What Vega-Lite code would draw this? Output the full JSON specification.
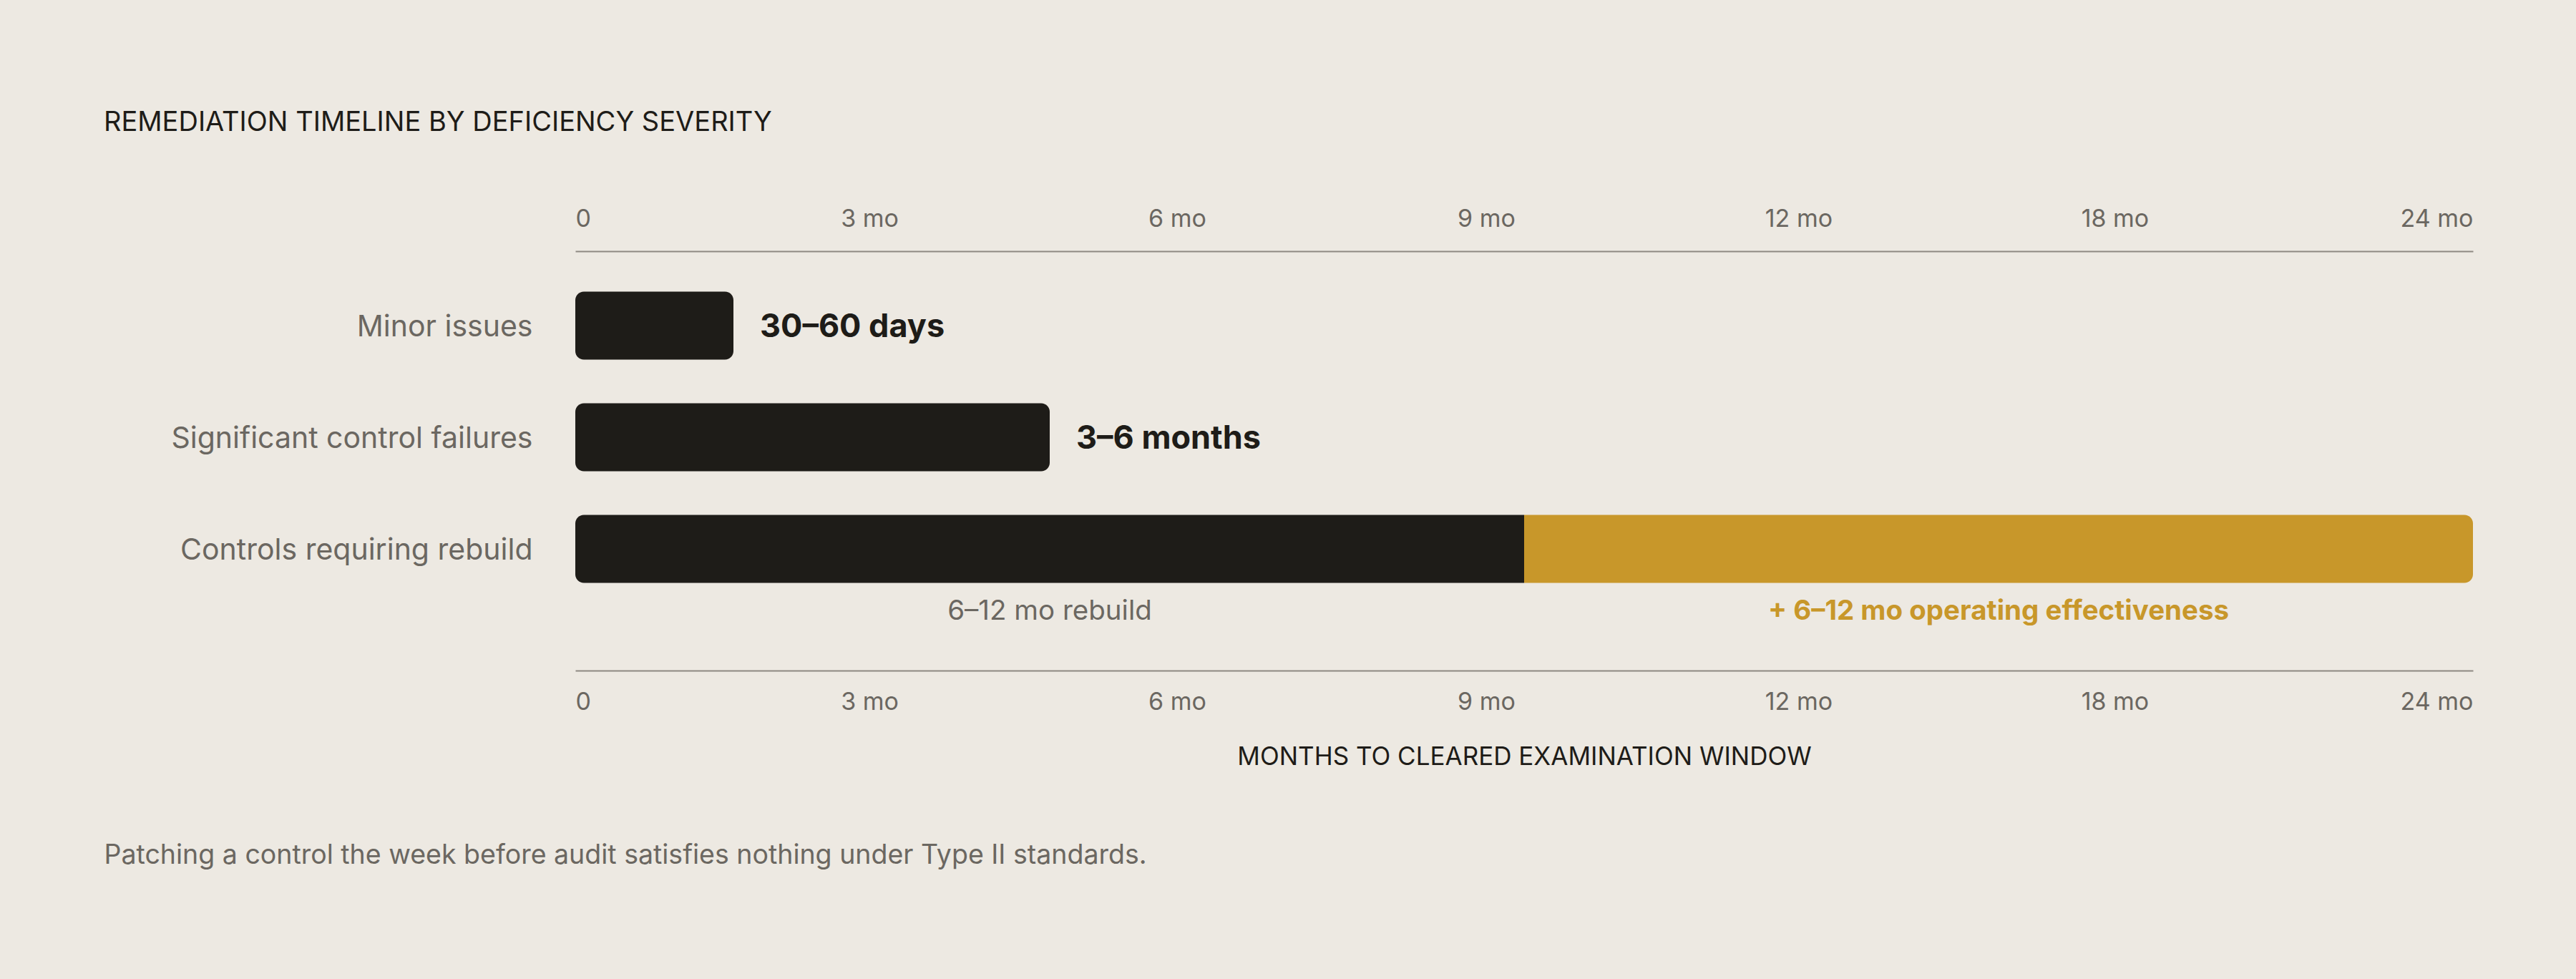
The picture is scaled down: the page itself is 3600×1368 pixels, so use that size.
{
  "$schema": "https://vega.github.io/schema/vega-lite/v6.json",
  "description": "Remediation timeline by deficiency severity, months to a cleared examination window.",
  "autosize": "none",
  "width": 2652,
  "height": 520,
  "padding": {"left": 804, "right": 144, "top": 351, "bottom": 497},
  "background": "#ede9e2",
  "title": {
    "text": "REMEDIATION TIMELINE BY DEFICIENCY SEVERITY",
    "anchor": "start",
    "frame": "group",
    "dx": -659,
    "offset": 98,
    "fontSize": 38,
    "fontWeight": "normal",
    "color": "#1e1c18"
  },
  "config": {
    "font": "Inter",
    "view": {"stroke": null}
  },
  "data": {
    "values": [
      {"category": "Minor issues", "start": 0, "end": 2, "segment": "single", "label": "30–60 days"},
      {"category": "Significant control failures", "start": 0, "end": 6, "segment": "single", "label": "3–6 months"},
      {"category": "Controls requiring rebuild", "start": 0, "end": 12, "segment": "left", "label": "6–12 mo rebuild"},
      {"category": "Controls requiring rebuild", "start": 12, "end": 24, "segment": "right", "label": "+ 6–12 mo operating effectiveness"}
    ]
  },
  "transform": [{"calculate": "(datum.start + datum.end) / 2", "as": "mid"}],
  "encoding": {
    "y": {
      "field": "category",
      "type": "nominal",
      "sort": ["Minor issues", "Significant control failures", "Controls requiring rebuild"],
      "scale": {"paddingInner": 0.391, "paddingOuter": 0.362},
      "axis": {
        "orient": "left",
        "title": "Patching a control the week before audit satisfies nothing under Type II standards.",
        "titleAngle": 0,
        "titleX": -659,
        "titleY": 844,
        "titleAlign": "left",
        "titleBaseline": "middle",
        "titleFontSize": 37.5,
        "titleFontWeight": "normal",
        "titleColor": "#6b6761",
        "labelFontSize": 41,
        "labelColor": "#6b6761",
        "labelPadding": 60,
        "labelOffset": 3,
        "labelLimit": 1000,
        "domain": false,
        "ticks": false,
        "tickSize": 0,
        "grid": false
      }
    }
  },
  "resolve": {"axis": {"x": "independent"}},
  "layer": [
    {
      "transform": [{"filter": "datum.segment == 'single'"}],
      "mark": {"type": "bar", "cornerRadius": 12, "color": "#1e1c18"},
      "encoding": {
        "x": {
          "field": "start",
          "type": "quantitative",
          "scale": {"domain": [0, 24], "nice": false},
          "axis": {
            "orient": "top",
            "title": null,
            "values": [0, 3.72, 7.61, 11.52, 15.47, 19.47, 24],
            "labelExpr": "datum.value == 0 ? '0' : datum.value < 4 ? '3 mo' : datum.value < 8 ? '6 mo' : datum.value < 12 ? '9 mo' : datum.value < 16 ? '12 mo' : datum.value < 20 ? '18 mo' : '24 mo'",
            "labelFlush": true,
            "labelFontSize": 34,
            "labelColor": "#6b6761",
            "labelPadding": 28,
            "ticks": false,
            "tickSize": 0,
            "grid": false,
            "domainColor": "#8e8982",
            "domainWidth": 2
          }
        },
        "x2": {"field": "end"}
      }
    },
    {
      "transform": [{"filter": "datum.segment == 'left'"}],
      "mark": {"type": "bar", "cornerRadiusTopLeft": 12, "cornerRadiusBottomLeft": 12, "color": "#1e1c18"},
      "encoding": {
        "x": {
          "field": "start",
          "type": "quantitative",
          "axis": {
            "orient": "bottom",
            "offset": 66,
            "title": "MONTHS TO CLEARED EXAMINATION WINDOW",
            "titleFontSize": 35,
            "titleFontWeight": "normal",
            "titleColor": "#1e1c18",
            "titlePadding": 42,
            "values": [0, 3.72, 7.61, 11.52, 15.47, 19.47, 24],
            "labelExpr": "datum.value == 0 ? '0' : datum.value < 4 ? '3 mo' : datum.value < 8 ? '6 mo' : datum.value < 12 ? '9 mo' : datum.value < 16 ? '12 mo' : datum.value < 20 ? '18 mo' : '24 mo'",
            "labelFlush": true,
            "labelFontSize": 34,
            "labelColor": "#6b6761",
            "labelPadding": 27,
            "ticks": false,
            "tickSize": 0,
            "grid": false,
            "domainColor": "#8e8982",
            "domainWidth": 2
          }
        },
        "x2": {"field": "end"}
      }
    },
    {
      "transform": [{"filter": "datum.segment == 'right'"}],
      "mark": {"type": "bar", "cornerRadiusTopRight": 12, "cornerRadiusBottomRight": 12, "color": "#c8972a"},
      "encoding": {
        "x": {"field": "start", "type": "quantitative", "axis": null},
        "x2": {"field": "end"}
      }
    },
    {
      "transform": [{"filter": "datum.segment == 'single'"}],
      "mark": {"type": "text", "align": "left", "baseline": "middle", "dx": 37, "dy": 2, "fontSize": 45, "fontWeight": "bold", "color": "#1e1c18"},
      "encoding": {
        "x": {"field": "end", "type": "quantitative", "axis": null},
        "text": {"field": "label"}
      }
    },
    {
      "transform": [{"filter": "datum.segment == 'left'"}],
      "mark": {"type": "text", "align": "center", "baseline": "middle", "dy": 87, "fontSize": 38.5, "color": "#6b6761"},
      "encoding": {
        "x": {"field": "mid", "type": "quantitative", "axis": null},
        "text": {"field": "label"}
      }
    },
    {
      "transform": [{"filter": "datum.segment == 'right'"}],
      "mark": {"type": "text", "align": "center", "baseline": "middle", "dy": 87, "fontSize": 38.5, "fontWeight": "bold", "color": "#c8972a"},
      "encoding": {
        "x": {"field": "mid", "type": "quantitative", "axis": null},
        "text": {"field": "label"}
      }
    }
  ]
}
